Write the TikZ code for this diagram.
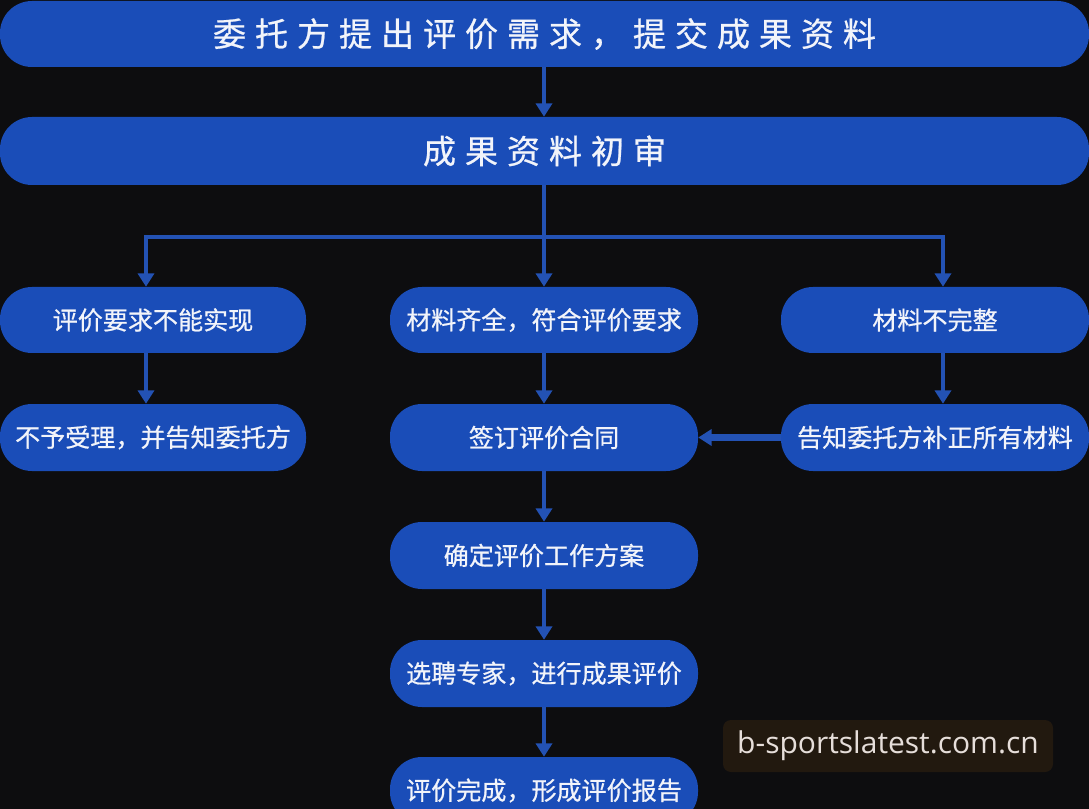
\documentclass[tikz,border=0pt]{standalone}
\usepackage{fontspec}
\setmainfont{Noto Sans CJK SC}[FakeBold=0.7,AutoFakeBold=0.7]
\newfontfamily\cjkbody[FakeBold=0.7]{Noto Sans CJK SC}
\newfontfamily\cjkwide[LetterSpace=27,FakeBold=0.7]{Noto Sans CJK SC}
\newfontfamily\wmfont{Open Sans}
\usetikzlibrary{arrows.meta}
\definecolor{bgc}{HTML}{0D0D0F}
\definecolor{boxc}{HTML}{1A4DB8}
\definecolor{linec}{HTML}{2352B4}
\definecolor{txtc}{HTML}{F2F4FA}
\definecolor{wmbg}{HTML}{22190F}
\definecolor{wmtx}{HTML}{E6DEDA}
\tikzset{
  pill/.style={fill=boxc, draw=none, rounded corners=32*0.75pt, text=txtc, font=\cjkbody\fontsize{18.8}{20}\selectfont, inner sep=0pt},
  bigpill/.style={pill, font=\cjkwide\fontsize{24.8}{26}\selectfont},
  flow/.style={draw=linec, line width=3pt, -{Triangle[length=10pt,width=12pt]}},
  link/.style={draw=linec, line width=3pt},
  sideflow/.style={draw=linec, line width=5pt, -{Triangle[length=10pt,width=12pt]}},
}
\begin{document}
\begin{tikzpicture}[x=0.75pt,y=-0.75pt]
\fill[bgc] (0,0) rectangle (1089,809);
\useasboundingbox (0,0) rectangle (1089,809);
% boxes
\node[bigpill, minimum width=1089*0.75pt, minimum height=66*0.75pt] (a) at (544.5,34) {委托方提出评价需求，提交成果资料};
\node[bigpill, minimum width=1089*0.75pt, minimum height=68*0.75pt] (b) at (544.5,151) {成果资料初审};
\node[pill, minimum width=306*0.75pt, minimum height=66*0.75pt] (l1) at (153,320) {评价要求不能实现};
\node[pill, minimum width=308*0.75pt, minimum height=66*0.75pt] (m1) at (544,320) {材料齐全，符合评价要求};
\node[pill, minimum width=308*0.75pt, minimum height=66*0.75pt] (r1) at (935,320) {材料不完整};
\node[pill, minimum width=306*0.75pt, minimum height=67*0.75pt] (l2) at (153,437.5) {不予受理，并告知委托方};
\node[pill, minimum width=308*0.75pt, minimum height=67*0.75pt] (m2) at (544,437.5) {签订评价合同};
\node[pill, minimum width=308*0.75pt, minimum height=67*0.75pt] (r2) at (935,437.5) {告知委托方补正所有材料};
\node[pill, minimum width=308*0.75pt, minimum height=67*0.75pt] (m3) at (544,555.5) {确定评价工作方案};
\node[pill, minimum width=308*0.75pt, minimum height=67*0.75pt] (m4) at (544,673.5) {选聘专家，进行成果评价};
\node[pill, minimum width=308*0.75pt, minimum height=67*0.75pt] (m5) at (544,790.5) {评价完成，形成评价报告};
% connectors
\coordinate (split) at (544,237);
\coordinate (sl) at (146,237);
\coordinate (sr) at (943,237);
\draw[flow] (a.south -| split) -- (b.north -| split);
\draw[link] (b.south -| split) -- (split);
\draw[link, line cap=rect] (sl) -- (sr);
\draw[flow] (sl) -- (l1.north -| sl);
\draw[flow] (split) -- (m1.north -| split);
\draw[flow] (sr) -- (r1.north -| sr);
\draw[flow] (l1.south -| sl) -- (l2.north -| sl);
\draw[flow] (m1.south -| split) -- (m2.north -| split);
\draw[flow] (r1.south -| sr) -- (r2.north -| sr);
\draw[sideflow] (r2.west) -- (m2.east);
\draw[flow] (m2) -- (m3);
\draw[flow] (m3) -- (m4);
\draw[flow] (m4) -- (m5);
% watermark
\node[fill=wmbg, rounded corners=6pt, minimum width=330*0.75pt, minimum height=52*0.75pt, inner sep=0pt, text=wmtx, font=\wmfont\fontsize{22.5}{24}\selectfont] (wm) at (888,746) {b-sportslatest.com.cn};
\end{tikzpicture}
\end{document}
